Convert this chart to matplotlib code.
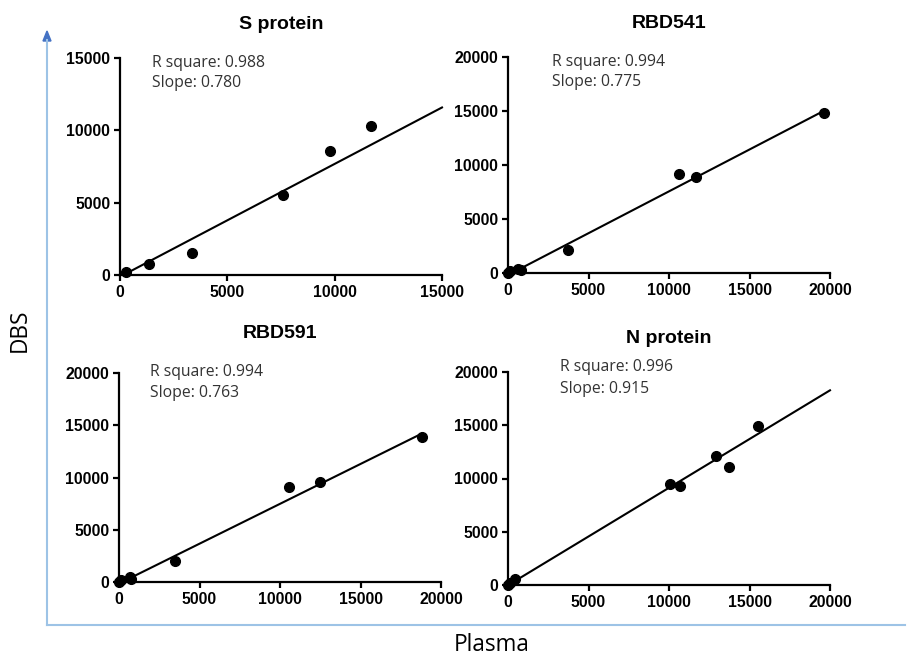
import numpy as np
import matplotlib
matplotlib.use('Agg')
import matplotlib.pyplot as plt
from matplotlib.lines import Line2D

# panel data (plasma x, DBS y)
titles = ['S protein', 'RBD541', 'RBD591', 'N protein']

s_plasma = [260, 1350, 3350, 7615, 9800, 11710]
s_dbs = [230, 740, 1490, 5510, 8560, 10280]

rbd541_plasma = [0, 145, 620, 790, 3730, 10610, 11650, 19650]
rbd541_dbs = [0, 155, 375, 280, 2090, 9200, 8890, 14790]

rbd591_plasma = [0, 150, 660, 765, 3500, 10590, 12490, 18800]
rbd591_dbs = [0, 155, 470, 310, 2020, 9130, 9560, 13860]

n_plasma = [0, 100, 415, 10050, 10670, 12910, 13740, 15500]
n_dbs = [0, 220, 530, 9440, 9320, 12110, 11090, 14940]

r_square = [0.988, 0.994, 0.994, 0.996]
slopes = [0.780, 0.775, 0.763, 0.915]
intercepts = [-120, -190, -150, -20]
line_start = [260, 0, 0, 0]
line_end = [15000, 19650, 18800, 20000]

axis_max = [15000, 20000, 20000, 20000]
x_ticks = [[0, 5000, 10000, 15000]] + [[0, 5000, 10000, 15000, 20000]] * 3
y_ticks = [[0, 5000, 10000, 15000]] + [[0, 5000, 10000, 15000, 20000]] * 3

xs = [s_plasma, rbd541_plasma, rbd591_plasma, n_plasma]
ys = [s_dbs, rbd541_dbs, rbd591_dbs, n_dbs]

# layout (figure fractions)
W, H = 910, 658
boxes_px = [(120, 442, 58, 275), (508, 830, 57, 273),
            (119, 441, 373, 582), (508, 830, 372, 585)]
text_pos = [(0.099, 0.978, 0.883), (0.137, 0.978, 0.883),
            (0.096, 1.005, 0.904), (0.161, 1.023, 0.920)]
title_pad = [21, 21, 25, 21]

fig = plt.figure(figsize=(W / 100, H / 100), dpi=100)

for i in range(4):
    l, r, t, b = boxes_px[i]
    ax = fig.add_axes([l / W, 1 - b / H, (r - l) / W, (b - t) / H])
    ax.plot(xs[i], ys[i], 'o', color='black', markersize=7, clip_on=False, zorder=3)
    lx = np.array([line_start[i], line_end[i]])
    ax.plot(lx, slopes[i] * lx + intercepts[i], color='black', lw=1.5, clip_on=False)

    ax.set_xlim(0, axis_max[i])
    ax.set_ylim(0, axis_max[i])
    ax.set_xticks(x_ticks[i])
    ax.set_yticks(y_ticks[i])
    for sp in ['top', 'right']:
        ax.spines[sp].set_visible(False)
    for sp in ['left', 'bottom']:
        ax.spines[sp].set_linewidth(1.6)
    ax.tick_params(direction='out', length=4, width=1.6, pad=3)
    for lab in ax.get_xticklabels() + ax.get_yticklabels():
        lab.set_fontfamily('Liberation Sans')
        lab.set_fontweight('bold')
        lab.set_fontsize(11.3)

    ax.set_title(titles[i], fontsize=14, fontweight='bold',
                 fontfamily='Liberation Sans', pad=title_pad[i])

    tx, ty1, ty2 = text_pos[i]
    ax.text(tx, ty1, 'R square: %.3f' % r_square[i], transform=ax.transAxes,
            va='center', ha='left', fontsize=11.3, color='#333333', fontfamily='Open Sans')
    ax.text(tx, ty2, 'Slope: %.3f' % slopes[i], transform=ax.transAxes,
            va='center', ha='left', fontsize=11.3, color='#333333', fontfamily='Open Sans')

# blue outer axes
x0, y0 = 47 / W, 1 - 625 / H
fig.add_artist(Line2D([x0, 905 / W], [y0, y0], color='#9dc3e6', lw=1.5))
fig.add_artist(Line2D([x0, x0], [y0, 1 - 40 / H], color='#9dc3e6', lw=1.5))
fig.patches.append(plt.Polygon([[x0 - 4 / W, 1 - 41 / H], [x0 + 4 / W, 1 - 41 / H],
                                [x0, 1 - 31 / H]], closed=True, color='#4472c4',
                               transform=fig.transFigure, figure=fig))

fig.text(20 / W, 1 - 330 / H, 'DBS', rotation=90, ha='center', va='center',
         fontsize=16.3, fontfamily='Open Sans')
fig.text(492 / W, 1 - 645 / H, 'Plasma', ha='center', va='center',
         fontsize=16.3, fontfamily='Open Sans')

fig.savefig('out.png', dpi=100)
